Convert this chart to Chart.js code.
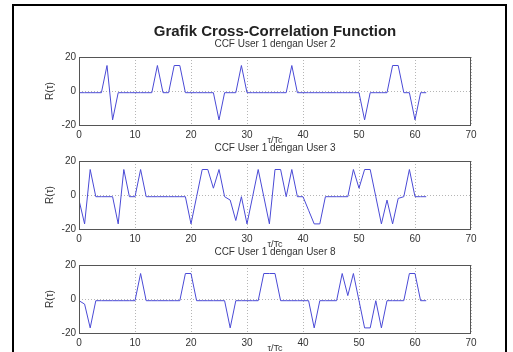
<!DOCTYPE html>
<html>
<head>
<meta charset="utf-8">
<title>Grafik Cross-Correlation Function</title>
<script src="https://cdn.jsdelivr.net/npm/chart.js@4.4.0/dist/chart.umd.min.js"></script>
<style>
    html, body { margin: 0; padding: 0; background: #fff; overflow: hidden; }
    #fig { position: relative; width: 513px; height: 352px; }
    #frame { position: absolute; left: 12px; top: 4px; width: 491px; height: 400px; border: 2px solid #000; border-bottom: none; }
    canvas { position: absolute; left: 0; display: block; }
</style>
</head>
<body>
<div id="fig">
    <div id="frame"></div>
    <canvas id="c1" width="513" height="134" style="top:21px"></canvas>
    <canvas id="c2" width="513" height="116" style="top:143px"></canvas>
    <canvas id="c3" width="513" height="116" style="top:247px"></canvas>
</div>
<script>
// lag axis (tau / Tc)
const lags = [0, 1, 2, 3, 4, 5, 6, 7, 8, 9,
    10, 11, 12, 13, 14, 15, 16, 17, 18, 19,
    20, 21, 22, 23, 24, 25, 26, 27, 28, 29,
    30, 31, 32, 33, 34, 35, 36, 37, 38, 39,
    40, 41, 42, 43, 44, 45, 46, 47, 48, 49,
    50, 51, 52, 53, 54, 55, 56, 57, 58, 59,
    60, 61, 62];

// CCF User 1 dengan User 2
const ccf12 = [-1, -1, -1, -1, -1, 15, -17, -1, -1, -1,
    -1, -1, -1, -1, 15, -1, -1, 15, 15, -1,
    -1, -1, -1, -1, -1, -17, -1, -1, -1, 15,
    -1, -1, -1, -1, -1, -1, -1, -1, 15, -1,
    -1, -1, -1, -1, -1, -1, -1, -1, -1, -1,
    -1, -17, -1, -1, -1, -1, 15, 15, -1, -1,
    -17, -1, -1];

// CCF User 1 dengan User 3
const ccf13 = [-3, -17, 15, -1, -1, -1, -1, -17, 15, -1,
    -1, 15, -1, -1, -1, -1, -1, -1, -1, -1,
    -17, -1, 15, 15, 4, 15, -1, -3, -15, -1,
    -17, -1, 15, -1, -17, 15, 15, -1, 15, -1,
    -1, -9, -17, -17, -1, -1, -1, -1, -1, 15,
    4, 15, 15, -1, -17, -3, -17, -2, -1, 15,
    -1, -1, -1];

// CCF User 1 dengan User 8
const ccf18 = [-1, -3, -17, -1, -1, -1, -1, -1, -1, -1,
    -1, 15, -1, -1, -1, -1, -1, -1, -1, 15,
    15, -1, -1, -1, -1, -1, -1, -17, -1, -1,
    -1, -1, -1, 15, 15, 15, -1, -1, -1, -1,
    -1, -1, -17, -1, -1, -1, -1, 15, 2, 15,
    -1, -17, -17, -1, -17, -1, -1, -1, -1, 15,
    15, -1, -1];

const xTicks = [0, 10, 20, 30, 40, 50, 60, 70];
const yTicks = [-20, 0, 20];

const fontFamily = "'Liberation Sans', Arial, Helvetica, sans-serif";
const textColor = '#333';
const lineColor = '#4a4ad6';

// MATLAB style axes box
const boxPlugin = {
    id: 'axesBox',
    afterDraw(chart) {
        const ca = chart.chartArea;
        const ctx = chart.ctx;
        ctx.save();
        ctx.strokeStyle = '#555';
        ctx.lineWidth = 1;
        ctx.strokeRect(ca.left + 0.5, ca.top + 0.5, ca.width - 1, ca.height);
        ctx.restore();
    }
};

function makeChart(id, values, subtitle, showMainTitle) {
    return new Chart(document.getElementById(id), {
        type: 'line',
        data: {
            datasets: [{
                data: lags.map((t, i) => ({ x: t, y: values[i] })),
                borderColor: lineColor,
                borderWidth: 1,
                pointRadius: 0,
                tension: 0,
                fill: false
            }]
        },
        options: {
            responsive: false,
            animation: false,
            layout: { padding: { left: 0, right: 42, top: 0, bottom: 0 } },
            plugins: {
                legend: { display: false },
                tooltip: { enabled: false },
                title: {
                    display: showMainTitle,
                    fullSize: false,
                    text: 'Grafik Cross-Correlation Function',
                    color: '#222',
                    font: { family: fontFamily, size: 15, weight: 'bold', lineHeight: 1 },
                    padding: { top: 3, bottom: 0 }
                },
                subtitle: {
                    display: true,
                    fullSize: false,
                    text: subtitle,
                    color: textColor,
                    font: { family: fontFamily, size: 10, lineHeight: 1 },
                    padding: { top: 0, bottom: 8 }
                }
            },
            scales: {
                x: {
                    type: 'linear',
                    min: 0,
                    max: 70,
                    afterBuildTicks: s => { s.ticks = xTicks.map(v => ({ value: v })); },
                    afterFit: s => { s.height = 30; },
                    grid: { color: '#b5b5b5', lineWidth: 1, drawTicks: false },
                    border: { display: false, dash: [1, 2] },
                    ticks: { color: textColor, padding: 4, font: { family: fontFamily, size: 10 } },
                    title: {
                        display: true,
                        text: 'τ/Tc',
                        color: textColor,
                        font: { family: fontFamily, size: 9, lineHeight: 1 },
                        padding: { top: 0, bottom: 10 }
                    }
                },
                y: {
                    min: -20,
                    max: 20,
                    afterBuildTicks: s => { s.ticks = yTicks.map(v => ({ value: v })); },
                    afterFit: s => { s.width = 79; },
                    grid: { color: '#b5b5b5', lineWidth: 1, drawTicks: false },
                    border: { display: false, dash: [1, 2] },
                    ticks: { color: textColor, padding: 3, font: { family: fontFamily, size: 10 } },
                    title: {
                        display: true,
                        text: 'R(τ)',
                        color: textColor,
                        font: { family: fontFamily, size: 10, lineHeight: 1 },
                        padding: { top: 45, bottom: 0 }
                    }
                }
            }
        },
        plugins: [boxPlugin]
    });
}

makeChart('c1', ccf12, 'CCF User 1 dengan User 2', true);
makeChart('c2', ccf13, 'CCF User 1 dengan User 3', false);
makeChart('c3', ccf18, 'CCF User 1 dengan User 8', false);
</script>
</body>
</html>
